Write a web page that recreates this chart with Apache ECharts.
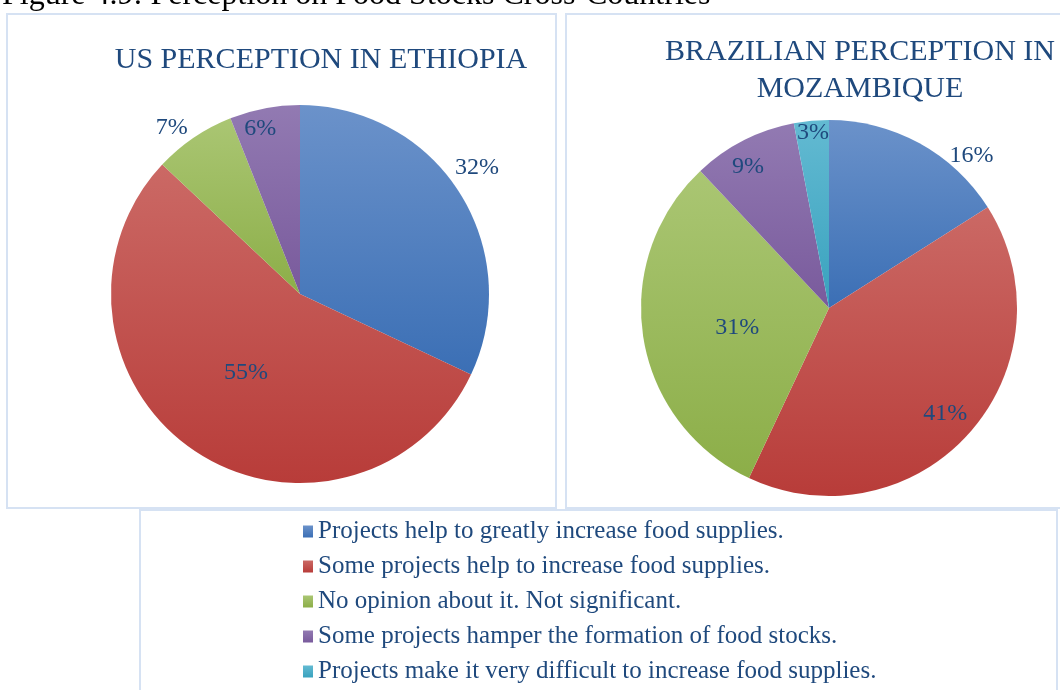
<!DOCTYPE html>
<html>
<head>
<meta charset="utf-8">
<script src="https://cdn.jsdelivr.net/npm/echarts@6/dist/echarts.min.js"></script>
<style>
html,body{margin:0;padding:0;background:#fff;}
#chart{width:1060px;height:690px;}
</style>
</head>
<body>
<div id="chart"></div>
<script>
// ---- data ----
const categories = [
  'Projects help to greatly increase food supplies.',
  'Some projects help to increase food supplies.',
  'No opinion about it. Not significant.',
  'Some projects hamper the formation of food stocks.',
  'Projects make it very difficult to increase food supplies.'
];
const usEthiopia = [32, 55, 7, 6];
const brazilMozambique = [16, 41, 31, 9, 3];
const titleLeft = 'US PERCEPTION IN ETHIOPIA';
const titleRight = 'BRAZILIAN PERCEPTION IN\nMOZAMBIQUE';
const caption = 'Figure 4.9: Perception on Food Stocks Cross-Countries';

// ---- styles ----
const gradTop    = ['#6b92ca', '#cb6965', '#aac673', '#927ab2', '#63bad2'];
const gradBottom = ['#3b6fb5', '#b83c39', '#8cae48', '#795a9c', '#39a2be'];
const textBlue = '#1F497D';
const frameColor = '#d6e2f3';
// label placement: [radius fraction, angle in degrees clockwise from top]
const placeLeft  = [[1.15, 54.5], [0.506, 214.3], [1.11, 322.3], [0.90, 346.5]];
const placeRight = [[1.11, 43.1], [0.836, 132.3], [0.50, 257.7], [0.865, 330.1], [0.935, 354.8]];
const pieLeft  = {cx: 300, cy: 294, r: 189};
const pieRight = {cx: 829, cy: 308, r: 188};

function grad(i) {
  return new echarts.graphic.LinearGradient(0, 0, 0, 1, [
    {offset: 0, color: gradTop[i]},
    {offset: 1, color: gradBottom[i]}
  ]);
}
function items(vals) {
  return vals.map((v, i) => ({name: categories[i], value: v, itemStyle: {color: grad(i)}}));
}
function layoutFor(geo, place) {
  return function (params) {
    const p = place[params.dataIndex];
    const a = p[1] * Math.PI / 180;
    return {
      x: geo.cx + p[0] * geo.r * Math.sin(a),
      y: geo.cy - p[0] * geo.r * Math.cos(a),
      align: 'center',
      verticalAlign: 'middle'
    };
  };
}
function pieSeries(vals, geo, place) {
  return {
    type: 'pie',
    center: [geo.cx, geo.cy],
    radius: geo.r,
    startAngle: 90,
    clockwise: true,
    avoidLabelOverlap: false,
    silent: true,
    animation: false,
    itemStyle: {borderWidth: 0},
    label: {
      show: true,
      position: 'inside',
      formatter: '{c}%',
      fontFamily: 'Liberation Serif',
      fontSize: 24,
      color: textBlue
    },
    labelLine: {show: false},
    labelLayout: layoutFor(geo, place),
    emphasis: {disabled: true},
    data: items(vals)
  };
}

const chart = echarts.init(document.getElementById('chart'), null, {renderer: 'canvas'});
chart.setOption({
  animation: false,
  backgroundColor: '#ffffff',
  title: [
    {
      text: titleLeft, left: 321, top: 45, textAlign: 'center', padding: 0,
      textStyle: {fontFamily: 'Liberation Serif', fontSize: 30, fontWeight: 'normal', color: textBlue}
    },
    {
      text: titleRight, left: 860, top: 34, textAlign: 'center', padding: 0,
      textStyle: {fontFamily: 'Liberation Serif', fontSize: 30, fontWeight: 'normal', color: textBlue, lineHeight: 37}
    }
  ],
  legend: {
    orient: 'vertical',
    left: 303,
    top: 518,
    padding: 0,
    itemWidth: 10,
    itemHeight: 12,
    itemGap: 8,
    icon: 'rect',
    selectedMode: false,
    data: categories,
    textStyle: {fontFamily: 'Liberation Serif', fontSize: 25, color: textBlue, lineHeight: 27}
  },
  graphic: [
    {type: 'rect', shape: {x: 7, y: 14, width: 549, height: 494}, style: {fill: null, stroke: frameColor, lineWidth: 2}, silent: true},
    {type: 'rect', shape: {x: 566, y: 14, width: 520, height: 494}, style: {fill: null, stroke: frameColor, lineWidth: 2}, silent: true},
    {type: 'rect', shape: {x: 140, y: 510, width: 917, height: 200}, style: {fill: null, stroke: frameColor, lineWidth: 2}, silent: true},
    {type: 'text', left: 2, top: -20, silent: true,
     style: {text: caption, fontFamily: 'Liberation Serif', fontSize: 32, fill: '#000'}}
  ],
  series: [
    pieSeries(usEthiopia, pieLeft, placeLeft),
    pieSeries(brazilMozambique, pieRight, placeRight)
  ]
});
</script>
</body>
</html>
